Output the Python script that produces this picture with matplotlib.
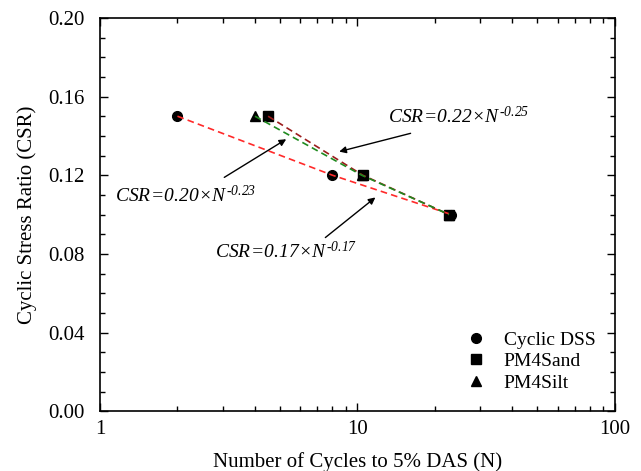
import matplotlib.pyplot as plt
from matplotlib.ticker import MultipleLocator, LogLocator, FixedLocator, NullFormatter

plt.rcParams['font.family'] = ['Liberation Serif', 'DejaVu Serif']
plt.rcParams['mathtext.fontset'] = 'custom'
plt.rcParams['mathtext.it'] = 'Liberation Serif:italic'
plt.rcParams['mathtext.rm'] = 'Liberation Serif:italic'
plt.rcParams['mathtext.default'] = 'it'

# datos
n_dss = [2.0, 8.0, 23.2]
csr_dss = [0.15, 0.12, 0.10]
n_sand = [4.5, 10.5, 22.7]
csr_sand = [0.15, 0.12, 0.10]
n_silt = [4.0, 10.4, 22.7]
csr_silt = [0.15, 0.12, 0.10]

fig = plt.figure(figsize=(6.41, 4.71), dpi=100)
ax = fig.add_axes([0.156, 0.127, 0.803, 0.835])

ax.plot(n_dss, csr_dss, 'o', color='black', ms=7, ls='none', label='Cyclic DSS', zorder=2)
ax.plot(n_sand, csr_sand, 's', color='black', ms=6.5, ls='none', label='PM4Sand', zorder=2)
ax.plot(n_silt, csr_silt, '^', color='black', ms=7, ls='none', label='PM4Silt', zorder=2)

dash = (4, 2.5)
ax.plot(n_dss, csr_dss, '--', dashes=dash, color='#ff2a2a', lw=1.2, zorder=3)
ax.plot(n_sand, csr_sand, '--', dashes=dash, color='#9b1c1c', lw=1.2, zorder=3)
ax.plot(n_silt, csr_silt, '--', dashes=dash, color='#1f8a1f', lw=1.2, zorder=3)

ax.set_xscale('log')
ax.set_xlim(1, 100)
ax.set_ylim(0, 0.20)
ax.yaxis.set_major_locator(MultipleLocator(0.04))
ax.yaxis.set_minor_locator(MultipleLocator(0.01))
ax.xaxis.set_major_locator(FixedLocator([1, 10, 100]))
ax.xaxis.set_minor_locator(LogLocator(subs=range(2, 10)))
ax.xaxis.set_minor_formatter(NullFormatter())
ax.set_xticklabels(['1', '10', '100'])
ax.set_yticklabels(['%.2f' % v for v in ax.get_yticks()])

ax.tick_params(which='both', direction='in', top=True, right=True, labelsize=15, width=1)
ax.tick_params(which='major', length=6)
ax.tick_params(which='minor', length=3.5)
ax.tick_params(axis='x', pad=6)
ax.tick_params(axis='y', pad=11)
for s in ax.spines.values():
    s.set_linewidth(1.2)

ax.set_xlabel('Number of Cycles to 5% DAS (N)', fontsize=15, labelpad=10)
ax.set_ylabel('Cyclic Stress Ratio (CSR)', fontsize=15, labelpad=8)

# ecuaciones de ajuste
arrow = dict(arrowstyle='-|>', color='black', lw=1, mutation_scale=10, shrinkA=0, shrinkB=0)
ax.text(13.2, 0.1464, r'$CSR\!=\!0.22\!\times\!N^{\text{-}0.25}$', fontsize=14, va='baseline')
ax.text(1.144, 0.1061, r'$CSR\!=\!0.20\!\times\!N^{\text{-}0.23}$', fontsize=14, va='baseline')
ax.text(2.80, 0.0781, r'$CSR\!=\!0.17\!\times\!N^{\text{-}0.17}$', fontsize=14, va='baseline')
ax.annotate('', xy=(8.5, 0.132), xytext=(16.1, 0.1413), arrowprops=arrow)
ax.annotate('', xy=(5.29, 0.1383), xytext=(3.04, 0.1189), arrowprops=arrow)
ax.annotate('', xy=(11.75, 0.1087), xytext=(7.51, 0.0883), arrowprops=arrow)

ax.legend(loc='lower right', frameon=False, fontsize=14, handletextpad=0.8,
          labelspacing=0.2, borderaxespad=0.6, handlelength=1.2)

fig.savefig('out.png', dpi=100)
